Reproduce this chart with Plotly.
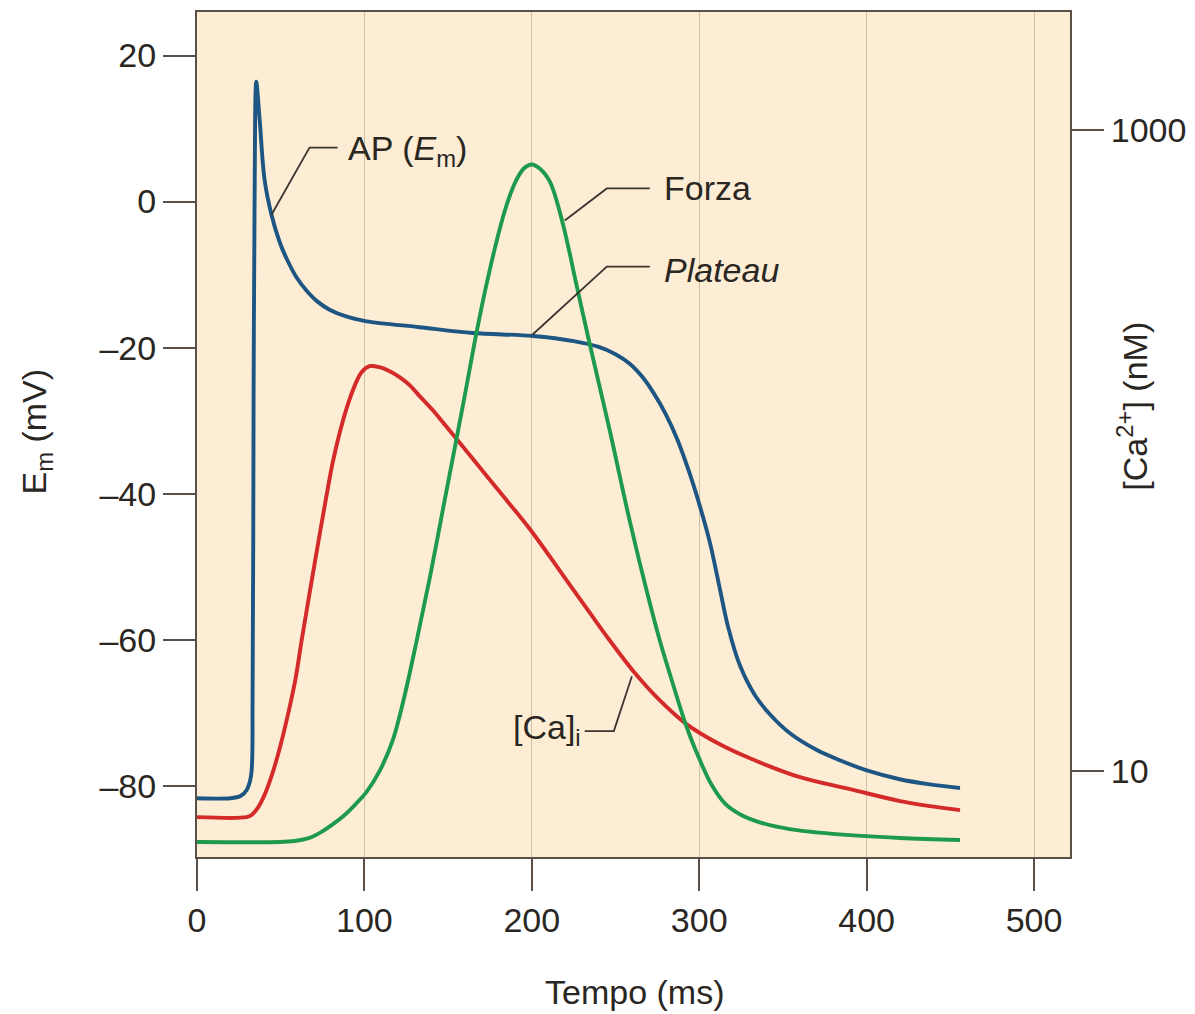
import plotly.graph_objects as go

# ---------------- data ----------------
# Action potential, Em (mV)
ap_t = [0, 20, 26, 29.6, 32.3, 33.2, 33.8, 34.4, 35.4, 37.4, 40.3, 44.5, 49.3, 53.5, 59.5,
        65.5, 72, 79.2, 90, 101.3, 133, 164.7, 200.5, 225, 240, 250, 258.5, 266, 273,
        280, 287, 294.4, 300.4, 306.4, 312.3, 317.1, 324.3, 333.3, 342.2, 354.2, 370.3,
        384.0, 400.1, 419.8, 437.8, 455.8]
ap_mv = [-81.7, -81.7, -81.4, -80.6, -78.6, -68, -27, 0, 16.4, 11.3, 3.1, -1.8, -5.5, -7.8,
         -10.4, -12.2, -13.7, -14.8, -15.8, -16.4, -17.2, -18.0, -18.4, -19.1, -19.9, -20.9,
         -22.2, -24.0, -26.3, -29.1, -32.6, -37.3, -41.7, -46.7, -53.0, -58.1, -63.5, -67.6,
         -70.2, -72.8, -75.1, -76.5, -77.9, -79.1, -79.8, -80.3]

# Intracellular calcium [Ca]i (nM, log axis)
ca_t = [0, 29.6, 32.6, 36.2, 40.3, 45.1, 49.9, 55.3, 58.9, 62.5, 67.2, 72.0, 76.8, 81.0,
        85.2, 89.4, 94.1, 98.3, 103.1, 109.1, 115.1, 121.0, 127.0, 133.0, 140.8, 149.2,
        162.9, 180.8, 198.7, 216.7, 234.6, 246.6, 260.3, 276.5, 292.6, 312.3, 330.3, 360.2,
        390.1, 419.9, 437.9, 455.8]
ca_nm = [7.19, 7.19, 7.30, 7.67, 8.42, 9.86, 12.05, 15.82, 19.47, 25.55, 35.79, 50.1, 69.6,
         91.4, 113.3, 135.6, 158.7, 175.4, 183.1, 181.8, 176.7, 169.3, 159.8, 147.7, 133.7,
         118.3, 96.8, 74.3, 57.0, 42.2, 31.2, 25.55, 20.62, 16.63, 14.00, 12.13, 10.97, 9.58,
         8.79, 8.07, 7.78, 7.56]

# Force (arbitrary units, 0 = rest, 100 = peak)
f_t = [0, 49.3, 58.3, 67.2, 74.4, 81.0, 88.2, 94.8, 101.3, 109.1, 116.9, 124.0, 131.2,
       139.0, 147.9, 155.1, 160.5, 165.9, 171.8, 177.8, 183.8, 189.8, 195.2, 200.0, 204.7,
       210.7, 218.5, 226.9, 234.6, 246.6, 258.5, 268.7, 276.5, 284.2, 292.6, 300.4, 307.5,
       315.3, 324.3, 336.2, 354.1, 379.9, 419.9, 455.8]
f_val = [0, 0, 0.15, 0.6, 1.5, 2.6, 4.0, 5.6, 7.4, 10.5, 15.0, 21.6, 29.7, 38.9, 50.4, 59.6,
         66.6, 73.8, 81.0, 87.5, 93.1, 97.2, 99.4, 100, 99.4, 97.5, 91.3, 82.0, 73.5, 60.7,
         47.4, 37.0, 29.7, 23.4, 16.9, 12.1, 8.4, 5.7, 4.1, 2.9, 1.9, 1.2, 0.6, 0.3]

x_ticks = [0, 100, 200, 300, 400, 500]
y_ticks = [-80, -60, -40, -20, 0, 20]
y_ticklabels = ["\u201380", "\u201360", "\u201340", "\u201320", "0", "20"]
ca_ticks = [10, 1000]
ca_ticklabels = ["10", "1000"]

# ---------------- styles ----------------
FONT = "Liberation Sans, Arial, Helvetica, sans-serif"
TXT = "#2a2622"
AXC = "#5a5048"
BLUE = "#1d5683"
RED = "#d42a2a"
GREEN = "#1e9a4c"
LW = 3.9
FS = 34

fig = go.Figure()
fig.add_trace(go.Scatter(x=ap_t, y=ap_mv, mode="lines", yaxis="y",
                         line=dict(color=BLUE, width=LW, shape="spline", smoothing=0.9),
                         name="AP (Em)"))
fig.add_trace(go.Scatter(x=ca_t, y=ca_nm, mode="lines", yaxis="y2",
                         line=dict(color=RED, width=LW, shape="spline", smoothing=1.0),
                         name="[Ca]i"))
fig.add_trace(go.Scatter(x=f_t, y=f_val, mode="lines", yaxis="y3",
                         line=dict(color=GREEN, width=LW, shape="spline", smoothing=1.0),
                         name="Forza"))

axis_common = dict(showline=True, linecolor=AXC, linewidth=2, ticks="outside", ticklen=32,
                   tickwidth=2, tickcolor=AXC, zeroline=False,
                   tickfont=dict(family=FONT, size=FS, color=TXT))

fig.update_layout(
    width=1187, height=1006, autosize=False,
    margin=dict(l=189, r=125, t=2, b=157),
    paper_bgcolor="white", plot_bgcolor="#fdedd5",
    showlegend=False,
    font=dict(family=FONT, size=FS, color=TXT),
    xaxis=dict(range=[0, 521.5], tickvals=x_ticks, showgrid=True, gridcolor="#cfc0a8",
               gridwidth=1.2, mirror=True, **axis_common),
    yaxis=dict(range=[-89.75, 25.96], tickvals=y_ticks, ticktext=y_ticklabels,
               showgrid=False, mirror=True, **axis_common),
    yaxis2=dict(type="log", range=[0.7325, 3.367], overlaying="y", side="right",
                tickvals=ca_ticks, ticktext=ca_ticklabels, showgrid=False, **axis_common),
    yaxis3=dict(range=[-2.21, 122.5], overlaying="y", visible=False),
)

# leader lines for the labels
leaders = [
    "M 44.5,-1.8 L 67.2,7.4 L 84,7.4",
    "M 219.7,-2.6 L 244.8,1.8 L 270.5,1.8",
    "M 200.5,-18.2 L 244.8,-8.9 L 270.5,-8.9",
    "M 259.8,-65 L 249,-72.5 L 231.6,-72.5",
]
for p in leaders:
    fig.add_shape(type="path", path=p, xref="x", yref="y",
                  line=dict(color="#3a3530", width=1.8))

def lab(text, x, y, xanchor="left"):
    fig.add_annotation(text=text, x=x, y=y, xref="x", yref="y", showarrow=False,
                       xanchor=xanchor, yanchor="middle",
                       font=dict(family=FONT, size=FS, color=TXT))

lab("AP (<i>E</i><sub>m</sub>)", 89.0, 7.0)
lab("Forza", 277.5, 1.8)
lab("<i>Plateau</i>", 277.5, -9.4)
lab("[Ca]<sub>i</sub>", 230.5, -72.3, xanchor="right")

# axis titles
fig.add_annotation(text="Tempo (ms)", x=0.5017, y=-0.1594, xref="paper", yref="paper",
                   showarrow=False, xanchor="center", yanchor="middle",
                   font=dict(family=FONT, size=FS, color=TXT))
fig.add_annotation(text="E<sub>m</sub> (mV)", x=-0.184, y=0.504, xref="paper", yref="paper",
                   showarrow=False, textangle=-90, xanchor="center", yanchor="middle",
                   font=dict(family=FONT, size=FS, color=TXT))
fig.add_annotation(text="[Ca<sup>2+</sup>] (nM)", x=1.072, y=0.534, xref="paper", yref="paper",
                   showarrow=False, textangle=-90, xanchor="center", yanchor="middle",
                   font=dict(family=FONT, size=FS, color=TXT))

fig.write_html("out.html")
